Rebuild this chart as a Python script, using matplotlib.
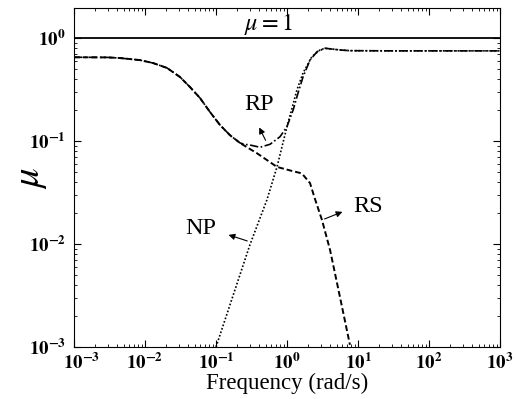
import matplotlib
matplotlib.use("Agg")
import matplotlib.pyplot as plt
from matplotlib.transforms import ScaledTranslation

plt.rcParams['font.family'] = ['Liberation Serif', 'DejaVu Serif']
plt.rcParams['mathtext.fontset'] = 'stix'

# ---- data ----
rs_freq = [0.001, 0.003, 0.0045, 0.0085, 0.013, 0.0204, 0.0311, 0.043, 0.0596,
           0.0823, 0.1138, 0.157, 0.218, 0.273, 0.378, 0.723, 1.2, 1.52, 1.68,
           2.11, 2.45, 3.11, 4.04, 5.57, 7.7]
rs_mu = [0.65, 0.648, 0.638, 0.61, 0.571, 0.512, 0.418, 0.334, 0.261,
         0.191, 0.143, 0.114, 0.0957, 0.087, 0.076, 0.056, 0.051, 0.049, 0.047,
         0.039, 0.028, 0.0171, 0.00875, 0.00306, 0.00105]

rp_freq = [0.001, 0.003, 0.0045, 0.0085, 0.013, 0.0204, 0.0311, 0.043, 0.0596,
           0.0823, 0.1138, 0.157, 0.218, 0.25, 0.301, 0.417, 0.577, 0.797, 1.0,
           1.22, 1.43, 1.68, 2.11, 2.65, 3.43, 5.57, 7.7, 30, 1000]
rp_mu = [0.65, 0.648, 0.638, 0.61, 0.571, 0.512, 0.418, 0.334, 0.261,
         0.191, 0.143, 0.114, 0.0957, 0.093, 0.0914, 0.0869, 0.0929, 0.110, 0.138,
         0.200, 0.292, 0.418, 0.611, 0.736, 0.795, 0.765, 0.753, 0.75, 0.75]

np_freq = [0.1, 0.3, 0.52, 0.723, 1.0, 1.38, 1.68, 2.25, 2.92, 3.43, 5.57, 7.7,
           30, 1000]
np_mu = [0.001, 0.0098, 0.0267, 0.056, 0.138, 0.313, 0.457, 0.66, 0.765, 0.795,
         0.765, 0.753, 0.75, 0.75]

unity = 1.0

x_ticks = [1e-3, 1e-2, 1e-1, 1e0, 1e1, 1e2, 1e3]
x_ticklabels = [r'$\mathbf{10^{-3}}$', r'$\mathbf{10^{-2}}$', r'$\mathbf{10^{-1}}$',
                r'$\mathbf{10^{0}}$', r'$\mathbf{10^{1}}$', r'$\mathbf{10^{2}}$',
                r'$\mathbf{10^{3}}$']
y_ticks = [1e-3, 1e-2, 1e-1, 1e0]
y_ticklabels = [r'$\mathbf{10^{-3}}$', r'$\mathbf{10^{-2}}$', r'$\mathbf{10^{-1}}$',
                r'$\mathbf{10^{0}}$']

# ---- figure ----
fig = plt.figure(figsize=(5.16, 3.99), dpi=100)
ax = fig.add_axes([74/516, 1-347/399, (500-74)/516, (347-8)/399])

ax.plot([1e-3, 1e3], [unity, unity], color='black', lw=1.3)
ax.plot(rs_freq, rs_mu, color='black', lw=1.4, linestyle=(0, (3, 1.5)))
ax.plot(rp_freq, rp_mu, color='black', lw=1.2, linestyle=(0, (5, 1.5, 1, 1.5)))
ax.plot(np_freq, np_mu, color='black', lw=1.2, linestyle=(0, (1, 1.2)))

ax.set_xscale('log')
ax.set_yscale('log')
ax.set_xlim(1e-3, 1e3)
ax.set_ylim(1e-3, 1.955)

ax.set_xticks(x_ticks)
ax.set_xticklabels(x_ticklabels, fontsize=13.5)
ax.set_yticks(y_ticks)
ax.set_yticklabels(y_ticklabels, fontsize=13.5)
ax.tick_params(which='both', direction='in', top=True, right=True)
ax.tick_params(which='major', length=5, width=0.8)
ax.tick_params(which='minor', length=2.5, width=0.6)
ax.tick_params(axis='x', pad=4)
ax.tick_params(axis='y', pad=6)

# first x tick label sits a little to the right in the reference
first = ax.get_xticklabels()[0]
first.set_transform(first.get_transform() + ScaledTranslation(8/100, 0, fig.dpi_scale_trans))

ax.set_xlabel('Frequency (rad/s)', fontsize=16.5, labelpad=0)
ax.text(-0.103, 0.50, r'$\mu$', fontsize=28, rotation=90, ha='center', va='center',
        transform=ax.transAxes)

ax.text(0.54, 1.34, r'$\mu = 1$', fontsize=17.5, ha='center', va='center')

arrow = dict(arrowstyle='-|>', color='black', lw=0.8, mutation_scale=9)
ax.text(0.40, 0.224, 'RP', fontsize=17.5, ha='center', va='center')
ax.annotate('', xy=(0.39, 0.143), xytext=(0.52, 0.096), arrowprops=arrow)
ax.text(0.0615, 0.014, 'NP', fontsize=17.5, ha='center', va='center')
ax.annotate('', xy=(0.138, 0.0125), xytext=(0.30, 0.0105), arrowprops=arrow)
ax.text(13.8, 0.0229, 'RS', fontsize=17.5, ha='center', va='center')
ax.annotate('', xy=(6.56, 0.021), xytext=(3.11, 0.0171), arrowprops=arrow)

fig.savefig('out.png', dpi=100)
